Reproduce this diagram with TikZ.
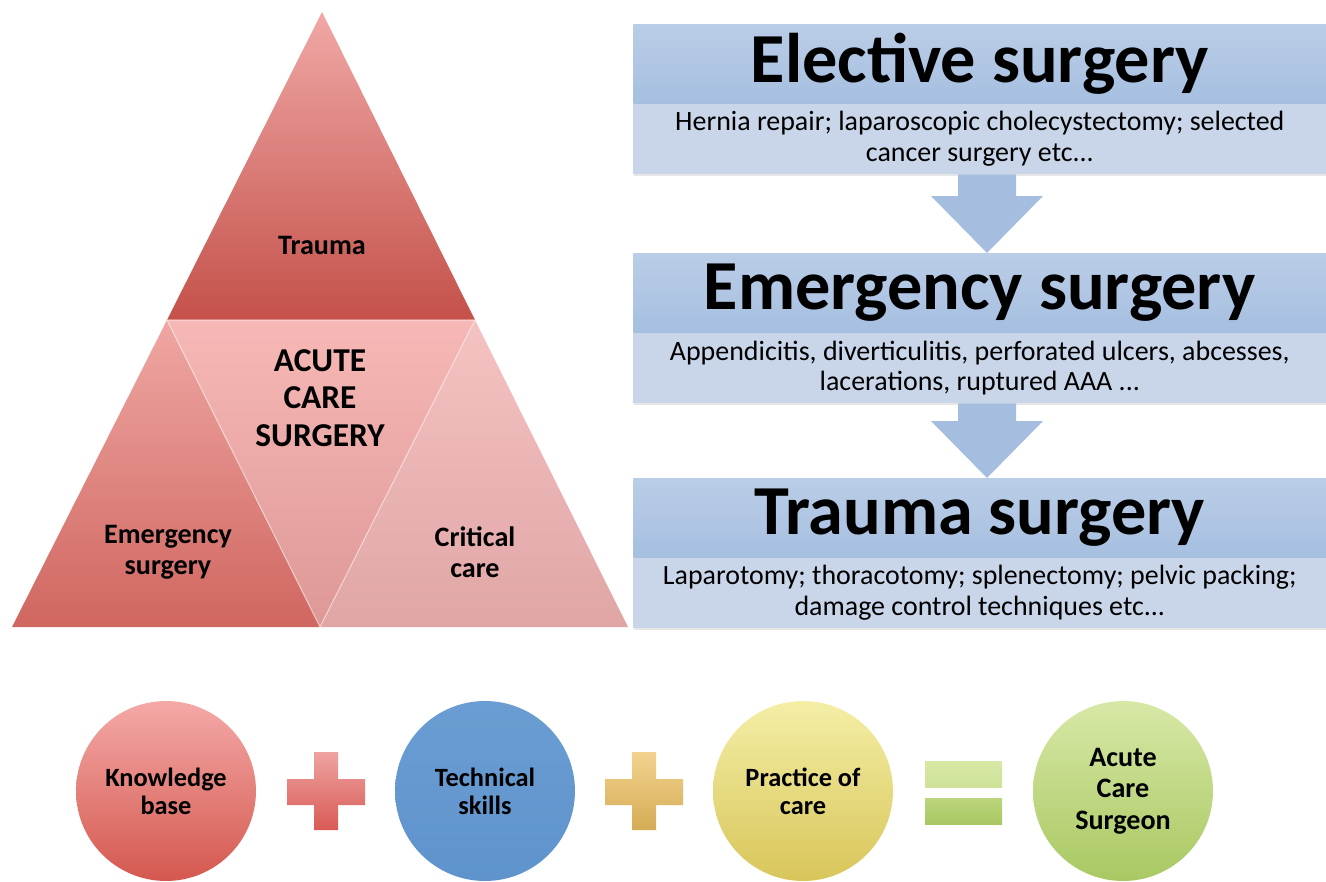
\documentclass[tikz,border=0pt]{standalone}
\usepackage{fontspec}
\setmainfont{Carlito}
\usetikzlibrary{positioning,calc,shadows}

\definecolor{traumatop}{HTML}{F0A8A6}
\definecolor{traumabot}{HTML}{C4514A}
\definecolor{acstop}{HTML}{F6B8B6}
\definecolor{acsbot}{HTML}{DE9896}
\definecolor{emtop}{HTML}{EFA7A3}
\definecolor{embot}{HTML}{D06660}
\definecolor{cctop}{HTML}{F5C2C2}
\definecolor{ccbot}{HTML}{E0A6A6}
\definecolor{headtop}{HTML}{BACDE7}
\definecolor{headbot}{HTML}{A6BFE0}
\definecolor{subfill}{HTML}{C9D6EA}
\definecolor{arrowfill}{HTML}{A5BEDF}
\definecolor{knowtop}{HTML}{F4A9A7}
\definecolor{knowbot}{HTML}{D4584F}
\definecolor{techtop}{HTML}{6A9DD2}
\definecolor{techbot}{HTML}{5F93CC}
\definecolor{practop}{HTML}{F4EEA6}
\definecolor{pracbot}{HTML}{D8C65A}
\definecolor{surgtop}{HTML}{D7E8A6}
\definecolor{surgbot}{HTML}{A9C862}
\definecolor{plusatop}{HTML}{EFA3A1}
\definecolor{plusabot}{HTML}{D85A55}
\definecolor{plusbtop}{HTML}{F3D38F}
\definecolor{plusbbot}{HTML}{D6AC55}

\tikzset{
    headbox/.style={rectangle, inner sep=0pt, minimum width=13.86cm,
        minimum height=1.58cm, top color=headtop, bottom color=headbot,
        font=\fontsize{40}{44}\selectfont\bfseries},
    subbox/.style={rectangle, inner sep=0pt, minimum width=13.86cm,
        minimum height=1.4cm, fill=subfill, align=center,
        font=\fontsize{15.9}{17.6}\selectfont,
        drop shadow={opacity=0.2, shadow xshift=0.4pt, shadow yshift=-1.2pt}},
    trilabel/.style={align=center, font=\fontsize{16}{17.6}\selectfont\bfseries},
    bubble/.style={circle, minimum size=3.6cm, inner sep=0pt, align=center,
        font=\fontsize{15}{16}\selectfont\bfseries},
    downarrow/.style={fill=arrowfill}
}

\begin{document}
\begin{tikzpicture}[x=0.02cm, y=-0.02cm]

    \useasboundingbox (0,0) rectangle (1326,882);

    % Pyramid
    \coordinate (apex) at (322,12);
    \coordinate (bl) at (12,627);
    \coordinate (br) at (628,627);
    \coordinate (ml) at (167,320);
    \coordinate (mr) at (475,320);
    \coordinate (mb) at (320,627);

    \shade[top color=traumatop, bottom color=traumabot] (apex) -- (mr) -- (ml) -- cycle;
    \shade[top color=emtop, bottom color=embot] (ml) -- (mb) -- (bl) -- cycle;
    \shade[top color=cctop, bottom color=ccbot] (mr) -- (br) -- (mb) -- cycle;
    \shade[top color=acstop, bottom color=acsbot] (ml) -- (mr) -- (mb) -- cycle;
    \draw[white, opacity=0.5, line width=0.6pt] (ml) -- (mr) -- (mb) -- cycle;

    \node[trilabel] (trauma) at (322,245) {Trauma};
    \node[trilabel, font=\fontsize{19}{21.5}\selectfont\bfseries] (acs) at (320,398)
        {ACUTE\\CARE\\SURGERY};
    \node[trilabel] (emerg) at (168,552) {Emergency\\surgery};
    \node[trilabel] (crit) at (475,552) {Critical\\care};

    % Surgery ladder
    \node[headbox, anchor=north west] (elhead) at (633,24) {Elective surgery};
    \node[subbox, below=0pt of elhead] (elsub)
        {Hernia repair; laparoscopic cholecystectomy; selected\\cancer surgery etc...};
    \node[headbox, anchor=north west] (emhead) at (633,253) {Emergency surgery};
    \node[subbox, below=0pt of emhead] (emsub)
        {Appendicitis, diverticulitis, perforated ulcers, abcesses,\\lacerations, ruptured AAA ...};
    \node[headbox, anchor=north west] (trhead) at (633,478) {Trauma surgery};
    \node[subbox, below=0pt of trhead] (trsub)
        {Laparotomy; thoracotomy; splenectomy; pelvic packing;\\damage control techniques etc...};

    \coordinate (ax) at (987,0);
    \foreach \from/\to in {elsub/emhead, emsub/trhead} {
        \fill[downarrow] ($(\from.south -| ax)+(-29,0)$) -- ($(\from.south -| ax)+(29,0)$)
            -- ($(\to.north -| ax)+(29,-57)$) -- ($(\to.north -| ax)+(56,-57)$)
            -- (\to.north -| ax) -- ($(\to.north -| ax)+(-56,-57)$)
            -- ($(\to.north -| ax)+(-29,-57)$) -- cycle;
    }

    % Equation
    \node[bubble, top color=knowtop, bottom color=knowbot] (know) at (166,791) {Knowledge\\base};
    \node[bubble, top color=techtop, bottom color=techbot] (tech) at (485,791) {Technical\\skills};
    \node[bubble, top color=practop, bottom color=pracbot] (prac) at (803,791) {Practice of\\care};
    \node[bubble, top color=surgtop, bottom color=surgbot,
        font=\fontsize{16}{18}\selectfont\bfseries] (surg) at (1123,791) {Acute\\Care\\Surgeon};

    \foreach \cx/\tc/\bc in {326/plusatop/plusabot, 644/plusbtop/plusbbot} {
        \shade[top color=\tc, bottom color=\bc]
            (\cx-39,779) -- (\cx-12,779) -- (\cx-12,752) -- (\cx+12,752)
            -- (\cx+12,779) -- (\cx+39,779) -- (\cx+39,805) -- (\cx+12,805)
            -- (\cx+12,830) -- (\cx-12,830) -- (\cx-12,805) -- (\cx-39,805) -- cycle;
    }
    \shade[top color=surgtop, bottom color=surgtop!80!surgbot] (925,761) rectangle (1002,787);
    \shade[top color=surgtop!40!surgbot, bottom color=surgbot] (925,798) rectangle (1002,824);

\end{tikzpicture}
\end{document}
